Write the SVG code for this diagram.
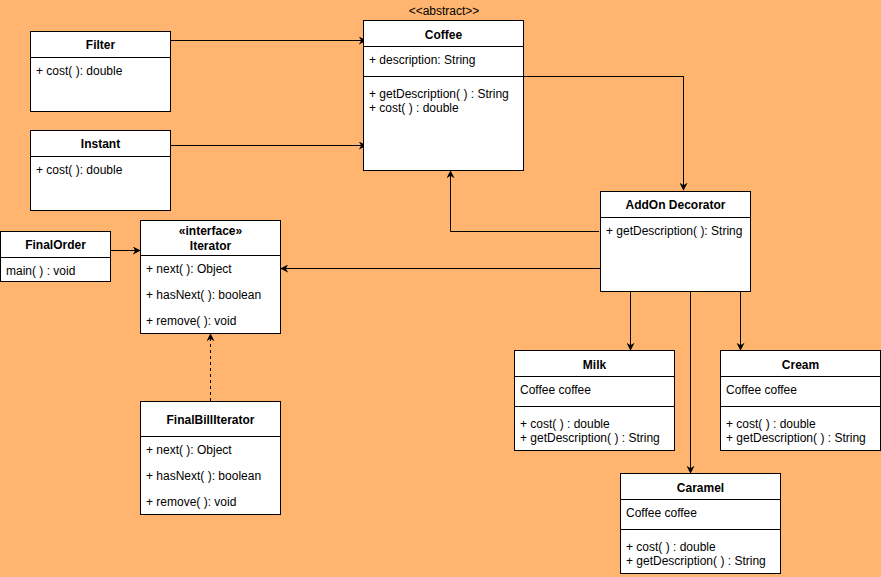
<svg xmlns="http://www.w3.org/2000/svg" width="881" height="577" viewBox="0 0 881 577">
<style>
.box{fill:#fff;stroke:#000;stroke-width:1}
.ln{stroke:#000;stroke-width:1;fill:none}
.t{font-family:"Liberation Sans",Arial,sans-serif;font-size:12px;fill:#000}
.b{font-weight:bold;text-anchor:middle}
.c{stroke:#000;stroke-width:1;fill:none;marker-end:url(#ah)}
</style>
<defs>
<marker id="ah" viewBox="0 0 10 10" refX="9" refY="5" markerWidth="8" markerHeight="8" markerUnits="userSpaceOnUse" orient="auto">
<path d="M0,0 L10,5 L0,10 L3,5 Z" fill="#000"/>
</marker>
</defs>
<rect width="881" height="577" fill="#FFB570"/>
<g id="connectors">
<path class="c" d="M170,40.5 H366"/>
<path class="c" d="M170,145.5 H366"/>
<path class="c" d="M523,76.5 H683.5 V190"/>
<path class="c" d="M599,231.5 H450.5 V171"/>
<path class="c" d="M600,268.5 H281"/>
<path class="c" d="M110,250.5 H140"/>
<path class="c" d="M210.5,401 V334" stroke-dasharray="3,3"/>
<path class="c" d="M630.5,291 V350"/>
<path class="c" d="M740.5,291 V350"/>
<path class="c" d="M690.5,291 V473"/>
</g>
<g id="filter">
<rect class="box" x="30.5" y="31.5" width="140" height="80"/>
<path class="ln" d="M30.5,57.5 H170.5"/>
<text class="t b" x="100.5" y="49">Filter</text>
<text class="t" x="36" y="75">+ cost( ): double</text>
</g>
<g id="instant">
<rect class="box" x="30.5" y="130.5" width="140" height="80"/>
<path class="ln" d="M30.5,156.5 H170.5"/>
<text class="t b" x="100.5" y="148">Instant</text>
<text class="t" x="36" y="174">+ cost( ): double</text>
</g>
<g id="coffee">
<text class="t" x="444" y="15" text-anchor="middle">&lt;&lt;abstract&gt;&gt;</text>
<rect class="box" x="363.5" y="20.5" width="160" height="150"/>
<path class="ln" d="M363.5,46.5 H523.5 M363.5,76.5 H523.5"/>
<text class="t b" x="443.5" y="39">Coffee</text>
<text class="t" x="369" y="64">+ description: String</text>
<text class="t" x="369" y="98">+ getDescription( ) : String</text>
<text class="t" x="369" y="112">+ cost( ) : double</text>
</g>
<g id="addon">
<rect class="box" x="600.5" y="191.5" width="150" height="100"/>
<path class="ln" d="M600.5,217.5 H750.5"/>
<text class="t b" x="675.5" y="209">AddOn Decorator</text>
<text class="t" x="606" y="235">+ getDescription( ): String</text>
</g>
<g id="finalorder">
<rect class="box" x="0.5" y="231.5" width="110" height="50"/>
<path class="ln" d="M0.5,257.5 H110.5"/>
<text class="t b" x="55.5" y="249">FinalOrder</text>
<text class="t" x="6" y="275">main( ) : void</text>
</g>
<g id="iterator">
<rect class="box" x="140.5" y="220.5" width="140" height="113"/>
<path class="ln" d="M140.5,255.5 H280.5"/>
<text class="t b" x="210.5" y="235">«interface»</text>
<text class="t b" x="210.5" y="250">Iterator</text>
<text class="t" x="146" y="273">+ next( ): Object</text>
<text class="t" x="146" y="299">+ hasNext( ): boolean</text>
<text class="t" x="146" y="325">+ remove( ): void</text>
</g>
<g id="finalbilliterator">
<rect class="box" x="140.5" y="401.5" width="140" height="113"/>
<path class="ln" d="M140.5,436.5 H280.5"/>
<text class="t b" x="210.5" y="424">FinalBillIterator</text>
<text class="t" x="146" y="454">+ next( ): Object</text>
<text class="t" x="146" y="480">+ hasNext( ): boolean</text>
<text class="t" x="146" y="506">+ remove( ): void</text>
</g>
<g id="milk">
<rect class="box" x="514.5" y="350.5" width="160" height="100"/>
<path class="ln" d="M514.5,376.5 H674.5 M514.5,406.5 H674.5"/>
<text class="t b" x="594.5" y="369">Milk</text>
<text class="t" x="520" y="394">Coffee coffee</text>
<text class="t" x="520" y="428">+ cost( ) : double</text>
<text class="t" x="520" y="442">+ getDescription( ) : String</text>
</g>
<g id="cream">
<rect class="box" x="720.5" y="350.5" width="160" height="100"/>
<path class="ln" d="M720.5,376.5 H880.5 M720.5,406.5 H880.5"/>
<text class="t b" x="800.5" y="369">Cream</text>
<text class="t" x="726" y="394">Coffee coffee</text>
<text class="t" x="726" y="428">+ cost( ) : double</text>
<text class="t" x="726" y="442">+ getDescription( ) : String</text>
</g>
<g id="caramel">
<rect class="box" x="620.5" y="473.5" width="160" height="100"/>
<path class="ln" d="M620.5,499.5 H780.5 M620.5,529.5 H780.5"/>
<text class="t b" x="700.5" y="492">Caramel</text>
<text class="t" x="626" y="517">Coffee coffee</text>
<text class="t" x="626" y="551">+ cost( ) : double</text>
<text class="t" x="626" y="565">+ getDescription( ) : String</text>
</g>
</svg>
